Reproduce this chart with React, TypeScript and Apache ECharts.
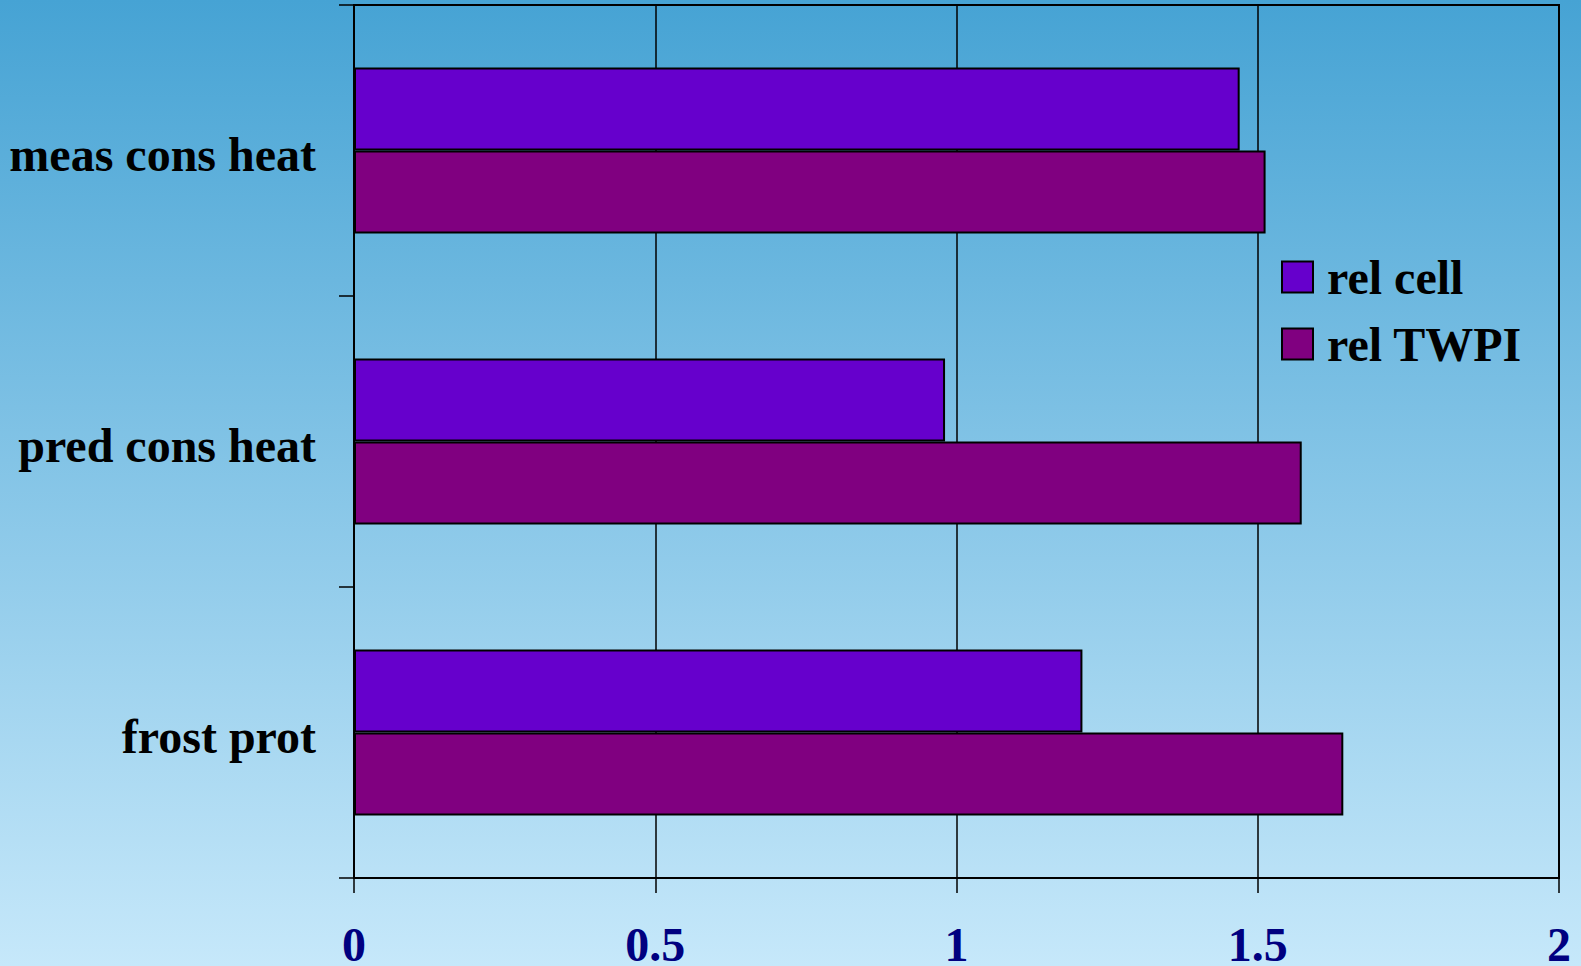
import React, { useEffect, useRef } from "react";
import * as echarts from "echarts";

const categories = ["meas cons heat", "pred cons heat", "frost prot"];
const relCell = [1.47, 0.981, 1.209];
const relTWPI = [1.513, 1.573, 1.642];
const xTicks = [0, 0.5, 1, 1.5, 2];

const FONT = "'Liberation Serif', 'Times New Roman', serif";

export default function App() {
  const ref = useRef<HTMLDivElement>(null);
  useEffect(() => {
    if (!ref.current) return;
    const chart = echarts.init(ref.current, undefined, { renderer: "svg" });
    chart.setOption({
      animation: false,
      backgroundColor: "transparent",
      grid: {
        left: 354,
        right: 22,
        top: 5,
        bottom: 88,
        outerBoundsMode: "none",
        containLabel: false,
        show: true,
        borderColor: "#000",
        borderWidth: 2,
        backgroundColor: "transparent",
      },
      legend: {
        orient: "vertical",
        left: 1281,
        top: 253,
        padding: 0,
        itemWidth: 31,
        itemHeight: 31,
        itemGap: 19,
        icon: "rect",
        data: ["rel cell", "rel TWPI"],
        textStyle: {
          fontFamily: FONT,
          fontWeight: "bold",
          fontSize: 48,
          lineHeight: 47,
          color: "#000",
          padding: [0, 0, 0, 9],
        },
      },
      xAxis: {
        type: "value",
        min: xTicks[0],
        max: xTicks[xTicks.length - 1],
        interval: 0.5,
        axisLine: { show: true, lineStyle: { color: "#000", width: 2 } },
        axisTick: { show: true, inside: false, length: 15, lineStyle: { color: "#000", width: 1.5 } },
        splitLine: { show: true, lineStyle: { color: "#000", width: 1.5 } },
        axisLabel: {
          margin: 49,
          fontFamily: FONT,
          fontWeight: "bold",
          fontSize: 48,
          lineHeight: 34,
          color: "#000080",
          formatter: (v: number) => String(v),
        },
      },
      yAxis: {
        type: "category",
        inverse: true,
        data: categories,
        axisLine: { show: true, lineStyle: { color: "#000", width: 2 } },
        axisTick: { show: true, inside: false, length: 15, alignWithLabel: false, lineStyle: { color: "#000", width: 1.5 } },
        splitLine: { show: false },
        axisLabel: {
          margin: 38,
          formatter: (v: string) => `{a|${v}}`,
          rich: {
            a: {
              fontFamily: FONT,
              fontWeight: "bold",
              fontSize: 48,
              color: "#000",
              padding: [8, 0, 0, 0],
            },
          },
        },
      },
      series: [
        {
          name: "rel cell",
          type: "bar",
          data: relCell,
          barGap: "0%",
          barCategoryGap: "43%",
          itemStyle: { color: "#6600CC", borderColor: "#000", borderWidth: 2 },
        },
        {
          name: "rel TWPI",
          type: "bar",
          data: relTWPI,
          barGap: "0%",
          barCategoryGap: "43%",
          itemStyle: { color: "#800080", borderColor: "#000", borderWidth: 2 },
        },
      ],
    });
    return () => chart.dispose();
  }, []);
  return (
    <div
      ref={ref}
      style={{
        position: "absolute",
        left: 0,
        top: 0,
        width: 1581,
        height: 966,
        background: "linear-gradient(to bottom, #46a3d4 0%, #c6e8fa 100%)",
      }}
    />
  );
}
